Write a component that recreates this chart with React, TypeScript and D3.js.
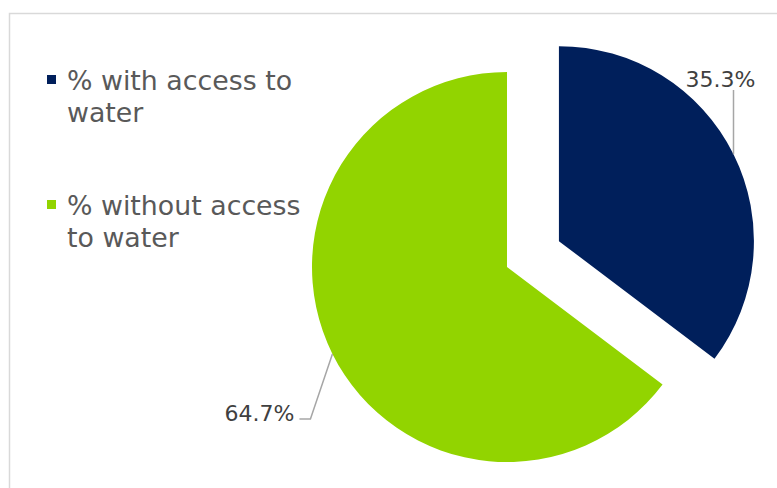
import React from "react";
import * as d3 from "d3";

const categories = ["% with access to water", "% without access to water"];
const legendLines = [["% with access to", "water"], ["% without access", "to water"]];
const values = [35.3, 64.7];
const labels = ["35.3%", "64.7%"];
const colors = ["#001f5b", "#92d400"];

export default function App() {
  const W = 777, H = 488;
  const cx = 507, cy = 267, R = 195, explode = 58;
  const pie = d3.pie<number>().sort(null).startAngle(0).endAngle(2 * Math.PI);
  const arcs = pie(values);
  const arc = d3.arc<d3.PieArcDatum<number>>().innerRadius(0).outerRadius(R);
  const font = "Verdana, 'DejaVu Sans', sans-serif";

  return (
    <svg width={W} height={H} style={{ position: "absolute", left: 0, top: 0, display: "block" }}>
      <rect x={0} y={0} width={W} height={H} fill="#ffffff" />
      <rect x={9.5} y={13.5} width={800} height={600} fill="none" stroke="#d9d9d9" strokeWidth={1.5} />
      {arcs.map((a, i) => {
        const mid = (a.startAngle + a.endAngle) / 2;
        const off = i === 0 ? explode : 0;
        const tx = cx + off * Math.sin(mid);
        const ty = cy - off * Math.cos(mid);
        const px = tx + R * Math.sin(mid);
        const py = ty - R * Math.cos(mid);
        let line: [number, number][];
        let lx: number, ly: number, anchor: "start" | "end" | "middle";
        if (i === 0) {
          line = [[px, py], [px, 90]];
          lx = px - 13; ly = 87; anchor = "middle";
        } else {
          line = [[px, py], [px - 22, 419], [px - 33, 419]];
          lx = px - 38; ly = 421; anchor = "end";
        }
        return (
          <g key={categories[i]}>
            <path d={arc(a) || ""} transform={`translate(${tx},${ty})`} fill={colors[i]} />
            <path d={d3.line()(line) || ""} fill="none" stroke="#a6a6a6" strokeWidth={1.5} />
            <text x={lx} y={ly} textAnchor={anchor} fontFamily={font} fontSize={22} fill="#404040">{labels[i]}</text>
          </g>
        );
      })}
      {legendLines.map((ls, i) => {
        const by = 90 + i * 125;
        return (
          <g key={i}>
            <rect x={47} y={by - 15} width={9} height={9} fill={colors[i]} />
            {ls.map((t, j) => (
              <text key={j} x={67} y={by + j * 32} fontFamily={font} fontSize={26.8} fill="#595959">{t}</text>
            ))}
          </g>
        );
      })}
    </svg>
  );
}
